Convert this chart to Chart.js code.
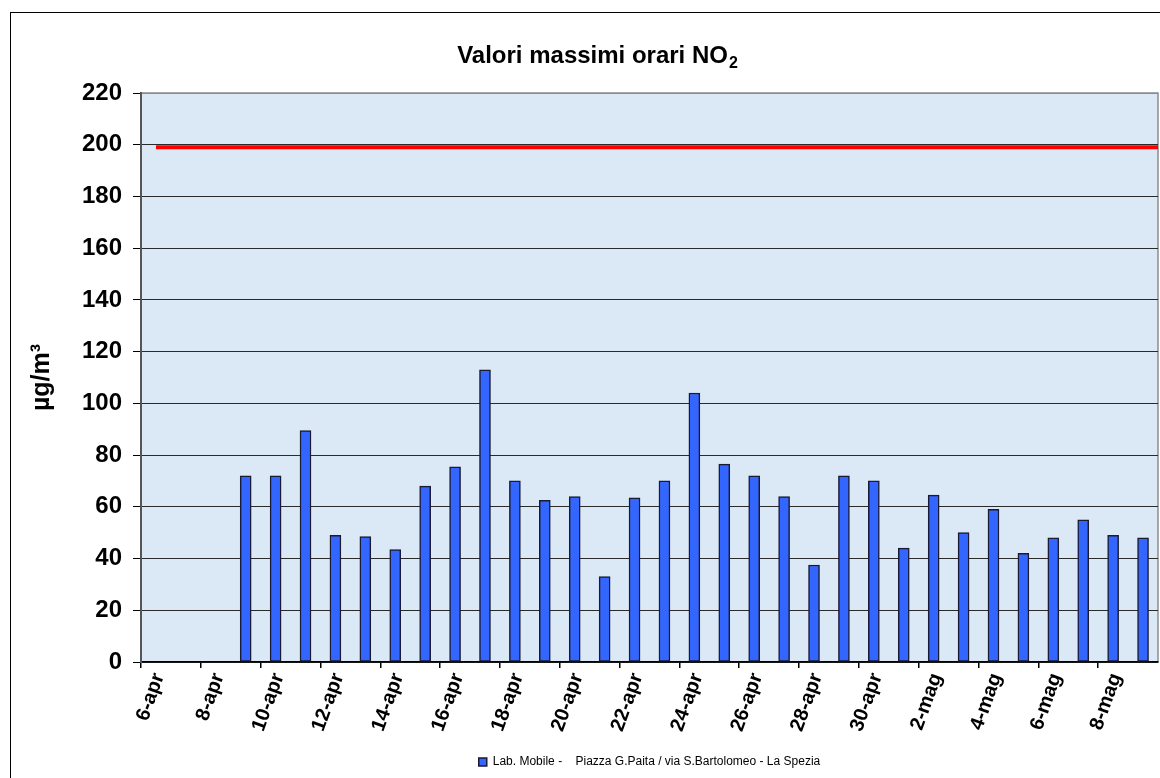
<!DOCTYPE html>
<html>
<head>
<meta charset="utf-8">
<script src="https://cdn.jsdelivr.net/npm/chart.js@4.4.1/dist/chart.umd.min.js"></script>
<style>
  html, body { margin: 0; padding: 0; background: #ffffff; overflow: hidden; }
  #wrap { position: relative; width: 1160px; height: 778px; }
</style>
</head>
<body>
<div id="wrap"><canvas id="c" width="1160" height="778"></canvas></div>
<script>
// ---- data ----
const categories = [
  '6-apr','7-apr','8-apr','9-apr','10-apr','11-apr','12-apr','13-apr','14-apr','15-apr',
  '16-apr','17-apr','18-apr','19-apr','20-apr','21-apr','22-apr','23-apr','24-apr','25-apr',
  '26-apr','27-apr','28-apr','29-apr','30-apr',
  '1-mag','2-mag','3-mag','4-mag','5-mag','6-mag','7-mag','8-mag','9-mag'
];
const no2MaxHourly = [
  null, null, null, 72, 72, 89.5, 49, 48.5, 43.5, 68,
  75.5, 113, 70, 62.5, 64, 33, 63.5, 70, 104, 76.5,
  72, 64, 37.5, 72, 70,
  44, 64.5, 50, 59, 42, 48, 55, 49, 48
];
const limitValue = 199;
const seriesLabel = 'Lab. Mobile -    Piazza G.Paita / via S.Bartolomeo - La Spezia';
const chartTitle = 'Valori massimi orari NO';
const chartTitleSub = '2';
const yAxisTitle = 'µg/m³';
const yMin = 0, yMax = 220, yStep = 20;
const xTickStep = 2;

const FONT = '"Liberation Sans", Arial, Helvetica, sans-serif';

const barData = categories.map((c, i) => ({ x: i + 0.5, y: no2MaxHourly[i] }));
const limitData = categories.map((c, i) => ({ x: i + 0.5, y: limitValue }));
limitData.push({ x: categories.length, y: limitValue });

const framePlugin = {
  id: 'frame',
  beforeDraw(chart) {
    const { ctx, chartArea: a } = chart;
    ctx.save();
    ctx.fillStyle = '#ffffff';
    ctx.fillRect(0, 0, chart.width, chart.height);
    ctx.strokeStyle = '#000000';
    ctx.lineWidth = 1;
    ctx.strokeRect(10.5, 12.5, 1300, 900);
    ctx.fillStyle = '#dbe8f6';
    ctx.fillRect(a.left, a.top, a.right - a.left, a.bottom - a.top);
    ctx.strokeStyle = '#8c8c8c';
    ctx.lineWidth = 1.5;
    ctx.strokeRect(a.left, a.top, a.right - a.left, a.bottom - a.top);
    ctx.restore();
  },
  afterDraw(chart) {
    const { ctx } = chart;
    ctx.save();
    ctx.fillStyle = '#000000';
    ctx.textBaseline = 'alphabetic';
    ctx.textAlign = 'left';
    const mainFont = 'bold 24px ' + FONT;
    const subFont = 'bold 16px ' + FONT;
    ctx.font = mainFont;
    const w1 = ctx.measureText(chartTitle).width;
    ctx.font = subFont;
    const w2 = ctx.measureText(chartTitleSub).width;
    const cx = 597;
    const x0 = cx - (w1 + w2) / 2;
    ctx.font = mainFont;
    ctx.fillText(chartTitle, x0, 63);
    ctx.font = subFont;
    ctx.fillText(chartTitleSub, x0 + w1 + 1, 68);
    ctx.restore();
  }
};

new Chart(document.getElementById('c'), {
  data: {
    datasets: [
      {
        type: 'line',
        label: 'limite',
        data: limitData,
        borderColor: '#ff0000',
        borderWidth: 4,
        pointRadius: 0,
        fill: false,
        order: 0
      },
      {
        type: 'bar',
        label: seriesLabel,
        data: barData,
        backgroundColor: '#3366ff',
        borderColor: '#1a1a33',
        borderWidth: 1.5,
        borderSkipped: false,
        barThickness: 11,
        order: 1
      }
    ]
  },
  options: {
    responsive: false,
    animation: false,
    layout: { padding: { left: 27, right: 2, top: 93, bottom: 0 } },
    plugins: {
      title: { display: false },
      tooltip: { enabled: false },
      legend: {
        display: true,
        position: 'bottom',
        fullSize: false,
        labels: {
          filter: (item) => item.datasetIndex === 1,
          font: { family: FONT, size: 12 },
          color: '#000000',
          boxWidth: 8,
          boxHeight: 8,
          padding: 4
        }
      }
    },
    scales: {
      x: {
        type: 'linear',
        min: 0,
        max: categories.length,
        offset: false,
        afterFit(scale) { scale.height = 90; scale.paddingLeft = 0; scale.paddingRight = 0; },
        border: { display: true, color: '#000000', width: 1.5 },
        grid: {
          offset: false,
          drawOnChartArea: false,
          drawTicks: true,
          tickLength: 6,
          color: (ctx) => (ctx.tick && ctx.tick.value >= categories.length) ? 'rgba(0,0,0,0)' : '#000000',
          lineWidth: 1.5
        },
        ticks: {
          stepSize: xTickStep,
          autoSkip: false,
          minRotation: 70,
          maxRotation: 70,
          padding: 2,
          labelOffset: 18,
          color: '#000000',
          font: { family: FONT, size: 20, weight: 'bold' },
          callback: (v) => categories[v] !== undefined ? categories[v] : ''
        }
      },
      y: {
        type: 'linear',
        min: yMin,
        max: yMax,
        afterFit(scale) { scale.width = 114; },
        border: { display: true, color: '#555555', width: 2 },
        grid: {
          color: (ctx) => (ctx.tick && ctx.tick.value === yMax) ? '#8c8c8c' : '#2a2a2a',
          lineWidth: 1,
          tickLength: 8,
          tickColor: '#000000'
        },
        ticks: {
          stepSize: yStep,
          padding: 11,
          color: '#000000',
          font: { family: FONT, size: 24, weight: 'bold' }
        },
        title: {
          display: true,
          text: yAxisTitle,
          color: '#000000',
          padding: { top: 0, bottom: 0 },
          font: { family: FONT, size: 25, weight: 'bold' }
        }
      }
    }
  },
  plugins: [framePlugin]
});
</script>
</body>
</html>
